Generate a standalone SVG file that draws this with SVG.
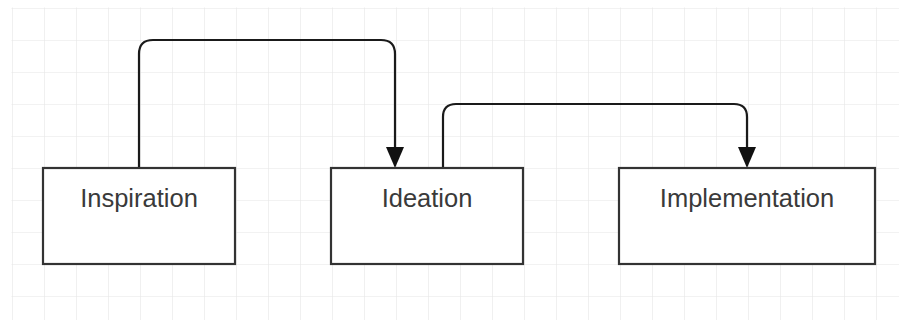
<svg xmlns="http://www.w3.org/2000/svg" width="899" height="320" viewBox="0 0 899 320">
  <defs>
    <!-- 32px background grid -->
    <pattern id="grid" x="12" y="8" width="32" height="32" patternUnits="userSpaceOnUse">
      <path d="M0 0 H32 M0 0 V32" fill="none" stroke="#e6e6e6" stroke-width="1.2"/>
    </pattern>
    <!-- filled triangle head; base sits at the path end, tip points along it -->
    <marker id="arrow" viewBox="0 0 21 18" refX="0" refY="9" markerWidth="21" markerHeight="18" markerUnits="userSpaceOnUse" orient="auto" overflow="visible">
      <path d="M0 0 L21 9 L0 18 Z" fill="#111"/>
    </marker>
    <style>
      .box { fill: #ffffff; stroke: #333333; stroke-width: 2.2; }
      .label { font-family: "Liberation Sans", Arial, sans-serif; font-size: 25.5px; fill: #3a3a3a; text-anchor: middle; }
      .edge { fill: none; stroke: #1a1a1a; stroke-width: 2.2; }
    </style>
  </defs>

  <rect x="0" y="0" width="899" height="320" fill="#ffffff"/>
  <rect x="11.5" y="7.5" width="888" height="313" fill="url(#grid)"/>

  <g id="connectors">
    <path class="edge" d="M139 168 V54 Q139 40 153 40 H381 Q395 40 395 54 V147" marker-end="url(#arrow)"/>
    <path class="edge" d="M443 168 V117 Q443 104 456 104 H734 Q747 104 747 117 V147" marker-end="url(#arrow)"/>
  </g>

  <g id="node-inspiration">
    <rect class="box" x="43" y="168" width="192" height="96"/>
    <text class="label" x="139" y="207">Inspiration</text>
  </g>

  <g id="node-ideation">
    <rect class="box" x="331" y="168" width="192" height="96"/>
    <text class="label" x="427" y="207">Ideation</text>
  </g>

  <g id="node-implementation">
    <rect class="box" x="619" y="168" width="256" height="96"/>
    <text class="label" x="747" y="207">Implementation</text>
  </g>
</svg>
